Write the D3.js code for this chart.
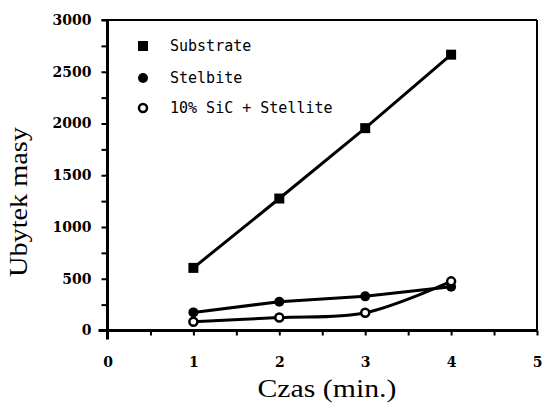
<!DOCTYPE html>
<html>
<head>
<meta charset="utf-8">
<script src="https://cdn.jsdelivr.net/npm/d3@7/dist/d3.min.js"></script>
<style>
  html, body { margin: 0; padding: 0; background: #fff; }
  svg { display: block; }
</style>
</head>
<body>
<svg id="chart" width="542" height="403"></svg>
<script>
// Mass loss over time for three materials
const times = [1, 2, 3, 4];
const substrate = [605, 1275, 1955, 2665];
const stelbite = [175, 278, 330, 422];
const sicStellite = [85, 125, 172, 475];

const seriesNames = ["Substrate", "Stelbite", "10% SiC + Stellite"];
const yTicks = d3.range(0, 3001, 250);
const yLabels = [0, 500, 1000, 1500, 2000, 2500, 3000];
const xTicks = d3.range(0, 5.01, 0.5);
const xLabels = [0, 1, 2, 3, 4, 5];

const svg = d3.select("#chart");
const x = d3.scaleLinear().domain([0, 5]).range([107.5, 537]);
const y = d3.scaleLinear().domain([0, 3000]).range([330.5, 20]);

const tickFont = "bold 14px 'DejaVu Serif', serif";

// Frame: top and right edges
svg.append("line").attr("x1", x(0) - 6).attr("x2", x(5))
  .attr("y1", y(3000)).attr("y2", y(3000))
  .attr("stroke", "#000").attr("stroke-width", 2);
svg.append("line").attr("x1", x(5)).attr("x2", x(5))
  .attr("y1", y(3000)).attr("y2", y(0))
  .attr("stroke", "#000").attr("stroke-width", 2);

// Y axis
const yAxis = d3.axisLeft(y).tickValues(yTicks).tickSize(6).tickPadding(10)
  .tickFormat(d => yLabels.includes(d) ? d : "");
const gy = svg.append("g").attr("transform", `translate(${x(0)},0)`).call(yAxis);
gy.select(".domain").remove();
gy.selectAll(".tick line").attr("stroke", "#000").attr("stroke-width", 2);
gy.selectAll(".tick text").style("font", tickFont).attr("fill", "#000");
svg.append("line").attr("x1", x(0)).attr("x2", x(0))
  .attr("y1", y(0) + 9).attr("y2", y(3000) - 1)
  .attr("stroke", "#000").attr("stroke-width", 3);

// X axis
const xAxis = d3.axisBottom(x).tickValues(xTicks).tickSize(5).tickPadding(22)
  .tickFormat(d => xLabels.includes(d) ? d : "");
const gx = svg.append("g").attr("transform", `translate(0,${y(0)})`).call(xAxis);
gx.select(".domain").remove();
gx.selectAll(".tick line").attr("stroke", "#000").attr("stroke-width", 2);
gx.selectAll(".tick text").style("font", tickFont).attr("fill", "#000");
svg.append("line").attr("x1", x(0) - 9).attr("x2", x(5))
  .attr("y1", y(0)).attr("y2", y(0))
  .attr("stroke", "#000").attr("stroke-width", 3);

// Axis titles
svg.append("text")
  .attr("transform", `translate(27,${202}) rotate(-90)`)
  .attr("text-anchor", "middle")
  .attr("textLength", 150).attr("lengthAdjust", "spacingAndGlyphs")
  .style("font", "26px 'Liberation Serif', 'Times New Roman', serif")
  .text("Ubytek masy");
svg.append("text")
  .attr("x", 327).attr("y", 397)
  .attr("text-anchor", "middle")
  .attr("textLength", 139).attr("lengthAdjust", "spacingAndGlyphs")
  .style("font", "26px 'Liberation Serif', 'Times New Roman', serif")
  .text("Czas (min.)");

// Series lines
const linear = d3.line().x((d, i) => x(times[i])).y(d => y(d));
const smooth = d3.line().x((d, i) => x(times[i])).y(d => y(d)).curve(d3.curveCatmullRom);

svg.append("path").datum(substrate).attr("d", linear)
  .attr("fill", "none").attr("stroke", "#000").attr("stroke-width", 3);
svg.append("path").datum(stelbite).attr("d", linear)
  .attr("fill", "none").attr("stroke", "#000").attr("stroke-width", 3);
svg.append("path").datum(sicStellite).attr("d", smooth)
  .attr("fill", "none").attr("stroke", "#000").attr("stroke-width", 3);

// Markers
function square(g, cx, cy) {
  g.append("rect").attr("x", cx - 5).attr("y", cy - 5)
    .attr("width", 10).attr("height", 10).attr("fill", "#000");
}
function dot(g, cx, cy) {
  g.append("circle").attr("cx", cx).attr("cy", cy).attr("r", 5).attr("fill", "#000");
}
function ring(g, cx, cy) {
  g.append("circle").attr("cx", cx).attr("cy", cy).attr("r", 4)
    .attr("fill", "#fff").attr("stroke", "#000").attr("stroke-width", 2.5);
}

const marks = svg.append("g");
substrate.forEach((v, i) => square(marks, x(times[i]), y(v)));
stelbite.forEach((v, i) => dot(marks, x(times[i]), y(v)));
sicStellite.forEach((v, i) => ring(marks, x(times[i]), y(v)));

// Legend
const legend = svg.append("g");
const legendY = [46, 78, 108];
const markerFns = [square, dot, ring];
seriesNames.forEach((name, i) => {
  markerFns[i](legend, 143, legendY[i]);
  legend.append("text")
    .attr("x", 170).attr("y", legendY[i] + 5)
    .style("font", "15px 'DejaVu Sans Mono', monospace")
    .attr("fill", "#000")
    .text(name);
});
</script>
</body>
</html>
